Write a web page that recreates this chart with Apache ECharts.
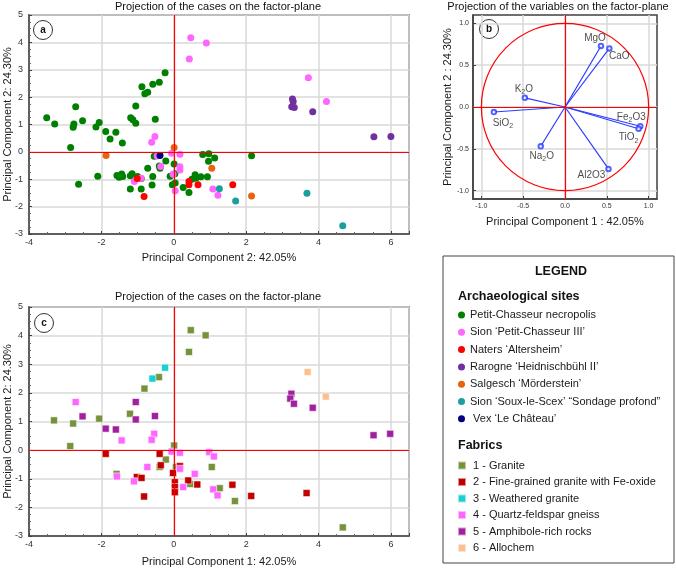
<!DOCTYPE html>
<html>
<head>
<meta charset="utf-8">
<script src="https://cdn.jsdelivr.net/npm/echarts@6/dist/echarts.min.js"></script>
<style>
html, body { margin: 0; padding: 0; background: #fff; }
#chart { width: 676px; height: 568px; }
</style>
</head>
<body>
<div id="chart"></div>
<script>
// ---- panel a : cases coloured by site ----
var siteNames = ['Petit-Chasseur necropolis', 'Sion ‘Petit-Chasseur III’', 'Naters ‘Altersheim’',
    'Rarogne ‘Heidnischbühl II’', 'Salgesch ‘Mörderstein’', 'Sion ‘Soux-le-Scex’ “Sondage profond”', ' Vex ‘Le Château’'];
var siteColors = ['#008000', '#ff66ff', '#ff0000', '#7030a0', '#e8640c', '#1a9e9e', '#000080'];

var petitChasseur = [[-3.51,1.25],[-3.29,1.02],[-2.71,1.65],[-2.52,1.14],[-2.76,1.02],[-2.78,0.9],[-2.85,0.16],[-2.63,-1.18],
    [-2.06,1.07],[-2.15,0.91],[-1.88,0.74],[-1.76,0.47],[-1.6,0.72],[-1.42,0.32],[-1.19,1.25],[-1.13,1.17],[-1.05,1.68],
    [-1.05,1.05],[-0.88,2.38],[-0.8,2.12],[-0.72,2.18],[-0.58,2.47],[-0.4,2.54],[-0.24,2.89],[-0.51,1.19],
    [-2.1,-0.89],[-1.57,-0.86],[-1.51,-0.93],[-1.44,-0.81],[-1.41,-0.9],[-1.2,-0.87],[-1.15,-0.8],[-1.0,-0.9],
    [-1.2,-1.36],[-0.9,-1.36],[-0.72,-0.6],[-0.58,-0.9],[-0.6,-1.21],[-0.9,-0.97],[-0.54,-0.16],[-0.38,-0.6],
    [-0.4,-0.52],[-0.22,-0.33],[0.01,-0.44],[0.03,-0.8],[-0.1,-0.89],[-0.04,-1.2],[0.04,-1.14],[0.26,-1.3],
    [0.42,-1.48],[0.59,-0.84],[0.61,-0.96],[0.75,-0.91],[0.93,-0.91],[0.8,-0.1],[0.97,-0.07],[0.96,-0.34],
    [1.13,-0.22],[2.15,-0.14],[0.5,-1.0]];
var sionPetitChasseur = [[0.47,4.17],[0.9,3.98],[0.43,3.39],[3.72,2.71],[4.22,1.84],[-0.52,0.56],[-0.61,0.35],
    [-0.46,-0.15],[-0.06,-0.05],[0.17,-0.09],[-0.36,-0.53],[0.17,-0.54],[0.17,-0.66],[-0.02,-0.82],[-1.09,-1.08],
    [-0.91,-0.96],[0.04,-1.42],[1.08,-1.36],[1.22,-1.58]];
var naters = [[-1.01,-0.97],[-0.82,-1.63],[0.42,-1.08],[0.42,-1.2],[0.67,-1.2],[1.63,-1.2]];
var rarogne = [[3.28,1.93],[3.3,1.84],[3.26,1.65],[3.33,1.62],[3.84,1.47],[5.53,0.55],[6.0,0.56]];
var salgesch = [[0.01,0.16],[-1.87,-0.13],[1.05,-0.6],[2.15,-1.61]];
var souxLeScex = [[1.26,-1.35],[1.71,-1.79],[3.68,-1.51],[4.67,-2.7]];
var vex = [[-0.38,-0.13]];
var siteData = [petitChasseur, sionPetitChasseur, naters, rarogne, salgesch, souxLeScex, vex];

// ---- panel c : cases coloured by fabric ----
var fabricNames = ['1 - Granite', '2 - Fine-grained granite with Fe-oxide', '3 - Weathered granite',
    '4 - Quartz-feldspar gneiss', '5 - Amphibole-rich rocks', '6 - Allochem'];
var fabricColors = ['#76923c', '#c00000', '#19cfd4', '#ff66ff', '#a0209e', '#fac090'];

var granite = [[0.47,4.19],[0.88,4.01],[0.42,3.43],[-0.41,2.55],[-0.81,2.15],[-3.31,1.04],[-2.78,0.93],[-2.06,1.1],
    [-1.21,1.27],[-2.86,0.14],[0.01,0.16],[-0.22,-0.33],[-0.39,-0.59],[0.06,-0.59],[-1.58,-0.83],[0.45,-1.18],
    [1.05,-0.59],[1.27,-1.33],[1.69,-1.78],[4.67,-2.7]];
var fineGrained = [[-1.88,-0.13],[-0.39,-0.13],[-0.36,-0.53],[0.17,-0.56],[-0.02,-0.8],[-1.02,-0.94],[-0.89,-0.97],
    [0.03,-1.12],[0.03,-1.29],[0.03,-1.47],[0.4,-1.06],[0.65,-1.2],[-0.82,-1.62],[1.62,-1.21],[2.14,-1.6],[3.67,-1.5]];
var weathered = [[-0.24,2.88],[-0.59,2.5]];
var quartzFeldspar = [[-2.71,1.68],[-1.44,0.34],[-0.54,0.57],[-0.61,0.36],[-0.06,-0.05],[0.17,-0.09],[0.98,-0.07],
    [1.11,-0.22],[-0.73,-0.59],[0.17,-0.65],[0.58,-0.83],[-1.57,-0.92],[-1.1,-1.09],[0.26,-1.29],[1.09,-1.37],[1.21,-1.58]];
var amphibole = [[-2.52,1.18],[-1.05,1.68],[-1.05,1.07],[-0.52,1.19],[-1.88,0.75],[-1.6,0.72],[3.25,1.97],[3.22,1.8],
    [3.32,1.62],[3.84,1.48],[5.52,0.52],[5.98,0.57]];
var allochem = [[3.7,2.73],[4.2,1.87]];
var fabricData = [granite, fineGrained, weathered, quartzFeldspar, amphibole, allochem];

// ---- panel b : variable loadings ----
var varNames = ['MgO', 'CaO', 'K2O', 'SiO2', 'Na2O', 'Al2O3', 'Fe2O3', 'TiO2'];
var varLabels = ['MgO', 'CaO', 'K{s|2}O', 'SiO{s|2}', 'Na{s|2}O', 'Al2O3', 'Fe{s|2}O3', 'TiO{s|2}'];
var pc1Loadings = [0.43, 0.53, -0.48, -0.85, -0.29, 0.52, 0.90, 0.88];
var pc2Loadings = [0.73, 0.70, 0.11, -0.06, -0.47, -0.74, -0.23, -0.26];
var unitCircle = [[0, 0, 1]];
var loadingTicks = [-1, -0.5, 0, 0.5, 1];

// label offsets (pixels) for the variable names
var labelOffsets = {
    MgO: [-6, -8], CaO: [10, 8], K2O: [-1, -9], SiO2: [9, 11],
    Na2O: [1, 10], Al2O3: [-17, 6], Fe2O3: [-9, -9], TiO2: [-10, 9]
};

var FONT = 'Liberation Sans, Arial, sans-serif';
var FRAME = '#404040';

function casesXAxis(grid, name, gap) {
    return {
        gridIndex: grid, type: 'value', min: -4, max: 6.5, interval: 2,
        name: name, nameLocation: 'middle', nameGap: gap,
        nameTextStyle: { fontSize: 11, color: '#1a1a1a', fontFamily: FONT },
        axisLine: { onZero: false, lineStyle: { color: FRAME, width: 1.5 } },
        axisTick: { inside: true, length: 3, lineStyle: { color: FRAME } },
        minorTick: { show: true, splitNumber: 4, length: 2, lineStyle: { color: '#666' } },
        axisLabel: { fontSize: 9, color: '#333', margin: 4, showMaxLabel: false, fontFamily: FONT },
        splitLine: { lineStyle: { color: '#d9d9d9', width: 1.5 } }
    };
}
function casesYAxis(grid, name) {
    return {
        gridIndex: grid, type: 'value', min: -3, max: 5, interval: 1,
        name: name, nameLocation: 'middle', nameGap: 16, nameRotate: 90, nameMoveOverlap: false,
        nameTextStyle: { fontSize: 11, color: '#1a1a1a', fontFamily: FONT },
        axisLine: { onZero: false, lineStyle: { color: FRAME, width: 1.5 } },
        axisTick: { inside: true, length: 3, lineStyle: { color: FRAME } },
        minorTick: { show: true, splitNumber: 4, length: 2, lineStyle: { color: '#666' } },
        axisLabel: { fontSize: 9, color: '#333', margin: 6, fontFamily: FONT },
        splitLine: { lineStyle: { color: '#d9d9d9', width: 1.5 } }
    };
}
function loadingAxis(grid, name, gap, rotate) {
    return {
        gridIndex: grid, type: 'value', min: -1.1, max: 1.1,
        name: name, nameLocation: 'middle', nameGap: gap, nameRotate: rotate,
        nameTextStyle: { fontSize: 11, color: '#1a1a1a', fontFamily: FONT },
        axisLine: { onZero: false, lineStyle: { color: FRAME, width: 1.5 } },
        axisTick: { inside: true, length: 3, customValues: loadingTicks, lineStyle: { color: FRAME } },
        axisLabel: { fontSize: 7, color: '#333', margin: 4, customValues: loadingTicks, fontFamily: FONT,
            formatter: function (v) { return v.toFixed(1); } },
        splitLine: { lineStyle: { color: '#d9d9d9', width: 1.5 } }
    };
}

var redZero = {
    silent: true, symbol: 'none', animation: false,
    label: { show: false },
    lineStyle: { color: '#ff0000', width: 1.2, type: 'solid' },
    emphasis: { disabled: true },
    data: [{ xAxis: 0 }, { yAxis: 0 }]
};

var series = [];
siteData.forEach(function (d, i) {
    series.push({
        type: 'scatter', name: siteNames[i], xAxisIndex: 0, yAxisIndex: 0,
        data: d, symbol: 'circle', symbolSize: 7,
        itemStyle: { color: siteColors[i], opacity: 1 },
        emphasis: { disabled: true },
        markLine: i === 0 ? redZero : undefined
    });
});
fabricData.forEach(function (d, i) {
    series.push({
        type: 'scatter', name: fabricNames[i], xAxisIndex: 2, yAxisIndex: 2,
        data: d, symbol: 'rect', symbolSize: 7,
        itemStyle: { color: fabricColors[i], opacity: 1, borderColor: 'rgba(255,255,255,0.55)', borderWidth: 1 },
        emphasis: { disabled: true },
        markLine: i === 0 ? redZero : undefined
    });
});
// unit circle
series.push({
    type: 'custom', xAxisIndex: 1, yAxisIndex: 1, data: unitCircle, z: 2, silent: true,
    renderItem: function (params, api) {
        var c = api.coord([api.value(0), api.value(1)]);
        var r = api.size([api.value(2), 0])[0];
        return { type: 'circle', shape: { cx: c[0], cy: c[1], r: r },
            style: { fill: 'none', stroke: '#ff0000', lineWidth: 1.2 } };
    }
});
// loading vectors
series.push({
    type: 'custom', xAxisIndex: 1, yAxisIndex: 1, z: 3, silent: true,
    data: varNames.map(function (n, i) { return [pc1Loadings[i], pc2Loadings[i]]; }),
    renderItem: function (params, api) {
        var o = api.coord([0, 0]);
        var p = api.coord([api.value(0), api.value(1)]);
        return { type: 'line', shape: { x1: o[0], y1: o[1], x2: p[0], y2: p[1] },
            style: { stroke: '#2a3cff', lineWidth: 1.2 } };
    }
});
series.push({
    type: 'scatter', xAxisIndex: 1, yAxisIndex: 1, z: 4,
    symbol: 'emptyCircle', symbolSize: 4.5,
    itemStyle: { color: '#2a3cff', borderWidth: 1.2 },
    emphasis: { disabled: true },
    data: varNames.map(function (n, i) {
        return { value: [pc1Loadings[i], pc2Loadings[i]], name: n,
            label: { offset: labelOffsets[n] } };
    }),
    label: {
        show: true, position: 'inside', fontSize: 10, color: '#222', fontFamily: FONT,
        formatter: function (p) { return varLabels[p.dataIndex]; },
        rich: { s: { fontSize: 7, color: '#222', padding: [6, 0, 0, 0], fontFamily: FONT } }
    },
    markLine: redZero
});

function panelBadge(x, y, letter) {
    return {
        type: 'group', z: 100, children: [
            { type: 'circle', shape: { cx: x, cy: y, r: 9.5 }, style: { fill: '#fff', stroke: '#333', lineWidth: 1 } },
            { type: 'text', style: { text: letter, x: x, y: y, align: 'center', verticalAlign: 'middle',
                textAlign: 'center', textVerticalAlign: 'middle', font: 'bold 10px ' + FONT, fill: '#111' } }
        ]
    };
}
function label(x, y, text, font, align) {
    return { type: 'text', z: 100, style: { text: text, x: x, y: y, align: align, verticalAlign: 'middle',
        textAlign: align, textVerticalAlign: 'middle', font: font, fill: '#111' } };
}

var gridBase = { show: true, borderColor: FRAME, borderWidth: 1.5, containLabel: false, outerBoundsMode: 'none' };

var option = {
    animation: false,
    textStyle: { fontFamily: FONT },
    grid: [
        Object.assign({ left: 29, top: 15, width: 380, height: 219 }, gridBase),
        Object.assign({ left: 473, top: 15, width: 184, height: 184 }, gridBase),
        Object.assign({ left: 29, top: 307, width: 380, height: 229 }, gridBase)
    ],
    xAxis: [
        casesXAxis(0, 'Principal Component 2: 42.05%', 18),
        loadingAxis(1, 'Principal Component 1 : 42.05%', 17, 0),
        casesXAxis(2, 'Principal Component 1: 42.05%', 20)
    ],
    yAxis: [
        casesYAxis(0, 'Principal Component 2: 24.30%'),
        loadingAxis(1, 'Principal Component 2 : 24.30%', 19, 90),
        casesYAxis(2, 'Principal Component 2: 24.30%')
    ],
    legend: [
        {
            data: siteNames, orient: 'vertical', left: 453, top: 304.5, icon: 'circle',
            itemWidth: 7, itemHeight: 7, itemGap: 6.3, selectedMode: false,
            textStyle: { fontSize: 11, color: '#1a1a1a', fontFamily: FONT }
        },
        {
            data: fabricNames, orient: 'vertical', left: 452, top: 455, icon: 'rect',
            itemWidth: 8, itemHeight: 8, itemGap: 5.5, selectedMode: false,
            textStyle: { fontSize: 11, color: '#1a1a1a', fontFamily: FONT, padding: [0, 0, 0, 2] }
        }
    ],
    graphic: [
        label(218, 7, 'Projection of the cases on the factor-plane', '11px ' + FONT, 'center'),
        label(558, 7, 'Projection of the variables on the factor-plane', '11px ' + FONT, 'center'),
        label(218, 297, 'Projection of the cases on the factor-plane', '11px ' + FONT, 'center'),
        panelBadge(43, 30, 'a'),
        panelBadge(489, 29, 'b'),
        panelBadge(44, 323, 'c'),
        { type: 'rect', z: 1, shape: { x: 443, y: 256, width: 231, height: 307 },
            style: { fill: 'none', stroke: '#444', lineWidth: 1 } },
        label(561, 272, 'LEGEND', 'bold 12.5px ' + FONT, 'center'),
        label(458, 297, 'Archaeological sites', 'bold 12.5px ' + FONT, 'left'),
        label(458, 446, 'Fabrics', 'bold 12.5px ' + FONT, 'left')
    ],
    series: series
};

var chart = echarts.init(document.getElementById('chart'));
chart.setOption(option);
window.addEventListener('resize', function () { chart.resize(); });
</script>
</body>
</html>
